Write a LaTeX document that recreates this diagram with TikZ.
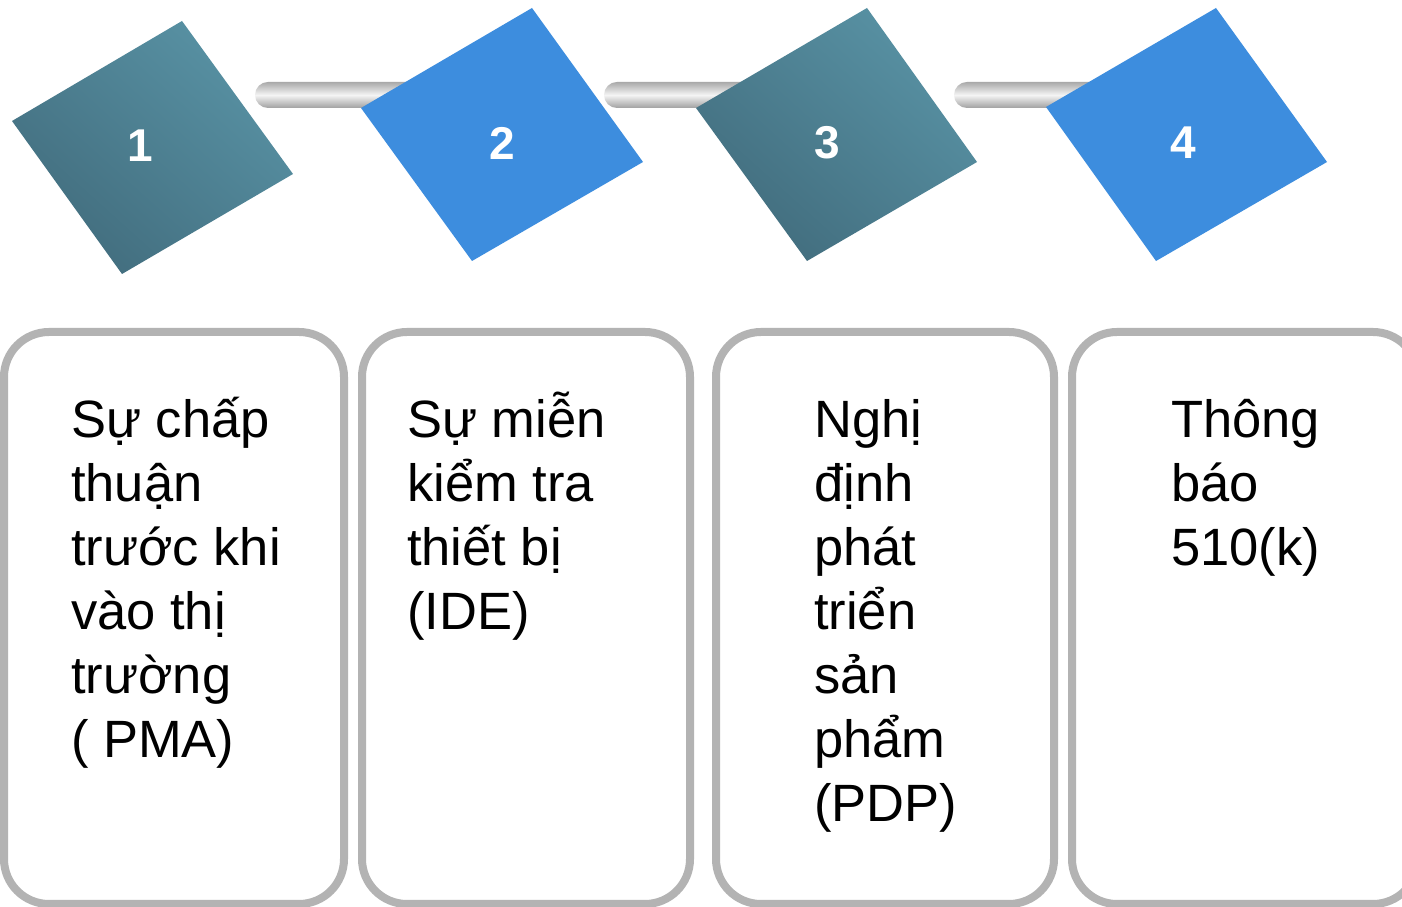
\documentclass[tikz,border=0pt]{standalone}
\usepackage{fontspec}
\setmainfont{Liberation Sans}
\usetikzlibrary{shadings}
\definecolor{tealdark}{HTML}{3D6575}
\definecolor{teallight}{HTML}{5D9AAC}
\definecolor{tealmid}{HTML}{4D7F91}
\definecolor{bluebox}{HTML}{3D8DDE}
\definecolor{boxgray}{HTML}{B3B3B3}
\definecolor{barmid}{HTML}{F4F4F4}
\definecolor{baredge}{HTML}{A9A9A9}
\tikzset{
  barstyle/.style={top color=baredge, bottom color=baredge!95!black, middle color=barmid, rounded corners=13pt},
  tealstyle/.style={upper left=tealmid, lower right=tealmid, lower left=tealdark, upper right=teallight},
  bluestyle/.style={fill=bluebox},
  numstyle/.style={text=white, font=\fontsize{46}{50}\selectfont\bfseries, inner sep=0pt},
  panel/.style={draw=boxgray, line width=8pt, rounded corners=45pt, fill=white},
  paneltext/.style={font=\fontsize{52.5}{64}\selectfont, align=left, anchor=base west, inner sep=0pt, text=black}
}
\begin{document}
\begin{tikzpicture}[x=1pt,y=1pt]
\useasboundingbox (0,0) rectangle (1402,907);
\fill[white] (0,0) rectangle (1402,907);
% bars
\shade[barstyle] (255,799) rectangle (440,825);
\shade[barstyle] (604,799) rectangle (780,825);
\shade[barstyle] (954,799) rectangle (1120,825);
% diamonds (image y -> 907 - y)
\shade[tealstyle] (12,786) -- (182,886) -- (293,733) -- (122,633) -- cycle;
\fill[bluestyle] (361,799) -- (532,899) -- (643,745) -- (472,646) -- cycle;
\shade[tealstyle] (696,799) -- (867,899) -- (977,745) -- (807,646) -- cycle;
\fill[bluestyle] (1046,800) -- (1216,899) -- (1327,745) -- (1156,646) -- cycle;
\node[numstyle] (n1) at (140,761) {1};
\node[numstyle] (n2) at (502,764) {2};
\node[numstyle] (n3) at (827,764) {3};
\node[numstyle] (n4) at (1183,764) {4};
% panels
\draw[panel] (4,3) rectangle (344,575);
\draw[panel] (362,3) rectangle (690,575);
\draw[panel] (716,3) rectangle (1054,575);
\draw[panel] (1072,3) rectangle (1418,575);
% anchor base = baseline of last line; first baseline at y=469
\node[paneltext] (t1) at (71,149) {Sự chấp\\thuận\\trước khi\\vào thị\\trường\\( PMA)};
\node[paneltext] (t2) at (407,277) {Sự miễn\\kiểm tra\\thiết bị\\(IDE)};
\node[paneltext] (t3) at (814,85) {Nghị\\định\\phát\\triển\\sản\\phẩm\\(PDP)};
\node[paneltext] (t4) at (1171,341) {Thông\\báo\\510(k)};
\end{tikzpicture}
\end{document}
